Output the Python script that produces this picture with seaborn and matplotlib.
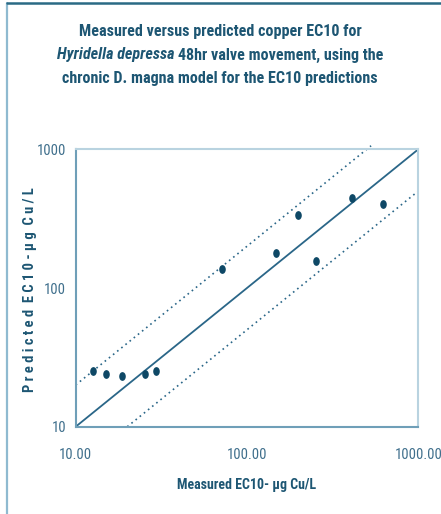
import matplotlib
matplotlib.use("Agg")
import matplotlib.pyplot as plt
import seaborn as sns
import numpy as np
import pandas as pd
from matplotlib.markers import MarkerStyle
from matplotlib.transforms import Affine2D
from matplotlib import font_manager
from matplotlib.font_manager import FontProperties

measured = [12.7, 15.0, 18.7, 25.5, 29.5, 71.1, 147.5, 198.6, 251.8, 408.0, 619.0]
predicted = [25.1, 23.9, 23.2, 23.9, 25.1, 136.0, 180.0, 336.0, 156.0, 446.0, 405.0]
x_ticks = [10, 100, 1000]
x_tick_labels = ["10.00", "100.00", "1000.00"]
y_ticks = [10, 100, 1000]
y_tick_labels = ["10", "100", "1000"]
line_x = [10, 1000]
upper_x = [10, 530]
lower_x = [20, 1000]
factor = 2.0

sns.set_theme(style="white")
plt.rcParams['font.family'] = ['Liberation Sans', 'DejaVu Sans']

COND = ("condensed", "semi-condensed", "extra-condensed", "ultra-condensed")


def is_bold(w):
    try:
        return int(w) >= 600
    except Exception:
        return str(w).lower() in ("bold", "heavy", "black", "semibold", "demibold", "extra bold")


def find_font(bold, italic):
    prefs = ["Liberation Sans Narrow", "Roboto Condensed", "Open Sans Condensed",
             "DejaVu Sans", "Noto Sans", "Roboto", "Open Sans", "Arial Narrow"]
    best = None
    for f in font_manager.fontManager.ttflist:
        cond = (f.stretch in COND) or ("Narrow" in f.name) or ("Condensed" in f.name) \
            or ("Condensed" in f.fname) or ("Narrow" in f.fname)
        if not cond:
            continue
        if is_bold(f.weight) != bold:
            continue
        if (f.style in ("italic", "oblique")) != italic:
            continue
        rank = next((i for i, p in enumerate(prefs) if f.name.startswith(p)), 99)
        if best is None or rank < best[0]:
            best = (rank, f.fname)
    return best[1] if best else None


def fp(bold=False, italic=False, size=10):
    path = find_font(bold, italic)
    if path:
        return FontProperties(fname=path, size=size)
    return FontProperties(family=["Liberation Sans", "DejaVu Sans"],
                          weight="bold" if bold else "normal",
                          style="italic" if italic else "normal", size=size)


title_c = "#1d5673"
tick_c = "#3f6f8c"
spine_c = "#6f9fb8"
light_c = "#b9d3e0"
mark_c = "#0e4866"
line_c = "#2a6688"

df = pd.DataFrame({"measured": measured, "predicted": predicted})

fig = plt.figure(figsize=(4.41, 5.14), dpi=100)
fig.patch.set_facecolor("white")
fig.add_artist(plt.Line2D([6.5/441, 6.5/441], [0, 1-3/514], transform=fig.transFigure, color="#8fbad0", lw=1.6))
fig.add_artist(plt.Line2D([6.5/441, 1], [1-3/514, 1-3/514], transform=fig.transFigure, color="#2a6a85", lw=1.8))

ax = fig.add_axes([75.7/441, 1-426.7/514, (418.3-75.7)/441, (426.7-149.3)/514])
ax.set_xscale("log")
ax.set_yscale("log")
ax.set_xlim(10, 1000)
ax.set_ylim(10, 1000)

ax.plot(line_x, line_x, color=line_c, lw=1.3, zorder=2)
ax.plot(upper_x, [v*factor for v in upper_x], color=line_c, lw=1.2, ls=(0, (1, 2.2)), zorder=2, clip_on=False)
ax.plot(lower_x, [v/factor for v in lower_x], color=line_c, lw=1.2, ls=(0, (1, 2.2)), zorder=2)

mk = MarkerStyle("o", transform=Affine2D().scale(0.75, 1.0))
sns.scatterplot(data=df, x="measured", y="predicted", ax=ax, marker=mk, s=40,
                color=mark_c, edgecolor=mark_c, linewidth=0, zorder=3)

ax.set_xticks(x_ticks)
ax.set_xticklabels(x_tick_labels)
ax.set_yticks(y_ticks)
ax.set_yticklabels(y_tick_labels)
ax.minorticks_off()
ax.tick_params(axis="both", which="major", direction="out", length=5, width=1.2,
               color=spine_c, labelcolor=tick_c)
ax.tick_params(axis="x", pad=10)
ax.tick_params(axis="y", pad=2)
for lab in ax.get_xticklabels() + ax.get_yticklabels():
    lab.set_fontproperties(fp(False, False, 10.5))
for s in ["left", "bottom"]:
    ax.spines[s].set_color(spine_c)
    ax.spines[s].set_linewidth(1.5)
for s in ["top", "right"]:
    ax.spines[s].set_color(light_c)
    ax.spines[s].set_linewidth(1.5)
ax.set_xlabel("")
ax.set_ylabel("")
ax.grid(False)

fig.canvas.draw()
r = fig.canvas.get_renderer()


def fit(t, target, maxsize, vertical=False):
    bb = t.get_window_extent(r)
    w = bb.height if vertical else bb.width
    size = t.get_fontsize() * target / w
    t.set_fontsize(min(size, maxsize))


xl = fig.text(247/441, 1-485/514, "Measured EC10- µg Cu/L", ha="center", va="center",
              color=title_c, fontproperties=fp(True, False, 11))
fit(xl, 139, 11.5)
yl = fig.text(30/441, 1-290/514, " ".join("Predicted") + "  " + " ".join("EC10") + " - " + " ".join("µg") + "  " + " ".join("Cu/L"),
              ha="center", va="center", rotation=90, color=title_c, fontproperties=fp(True, False, 10))
fit(yl, 206, 11, vertical=True)

t_a = fig.text(220/441, 1-31.5/514, "Measured versus predicted copper EC10 for",
               color=title_c, ha="center", va="center", fontproperties=fp(True, False, 13))
fit(t_a, 290, 13.5)
t_c = fig.text(220/441, 1-78/514, "chronic D. magna model for the EC10 predictions",
               color=title_c, ha="center", va="center", fontproperties=fp(True, False, 13))
fit(t_c, 316, 13.5)
size2 = min(t_a.get_fontsize(), t_c.get_fontsize())
t_a.set_fontsize(size2)
t_c.set_fontsize(size2)
t1 = fig.text(0, 1-55/514, "Hyridella depressa ", color=title_c, ha="left", va="center",
              fontproperties=fp(True, True, size2))
t2 = fig.text(0, 1-55/514, "48hr valve movement, using the", color=title_c, ha="left", va="center",
              fontproperties=fp(True, False, size2))
w1 = t1.get_window_extent(r).width
w2 = t2.get_window_extent(r).width
start = 220 - (w1 + w2) / 2
t1.set_x(start/441)
t2.set_x((start + w1)/441)

fig.savefig("out.png", dpi=100, facecolor="white")
